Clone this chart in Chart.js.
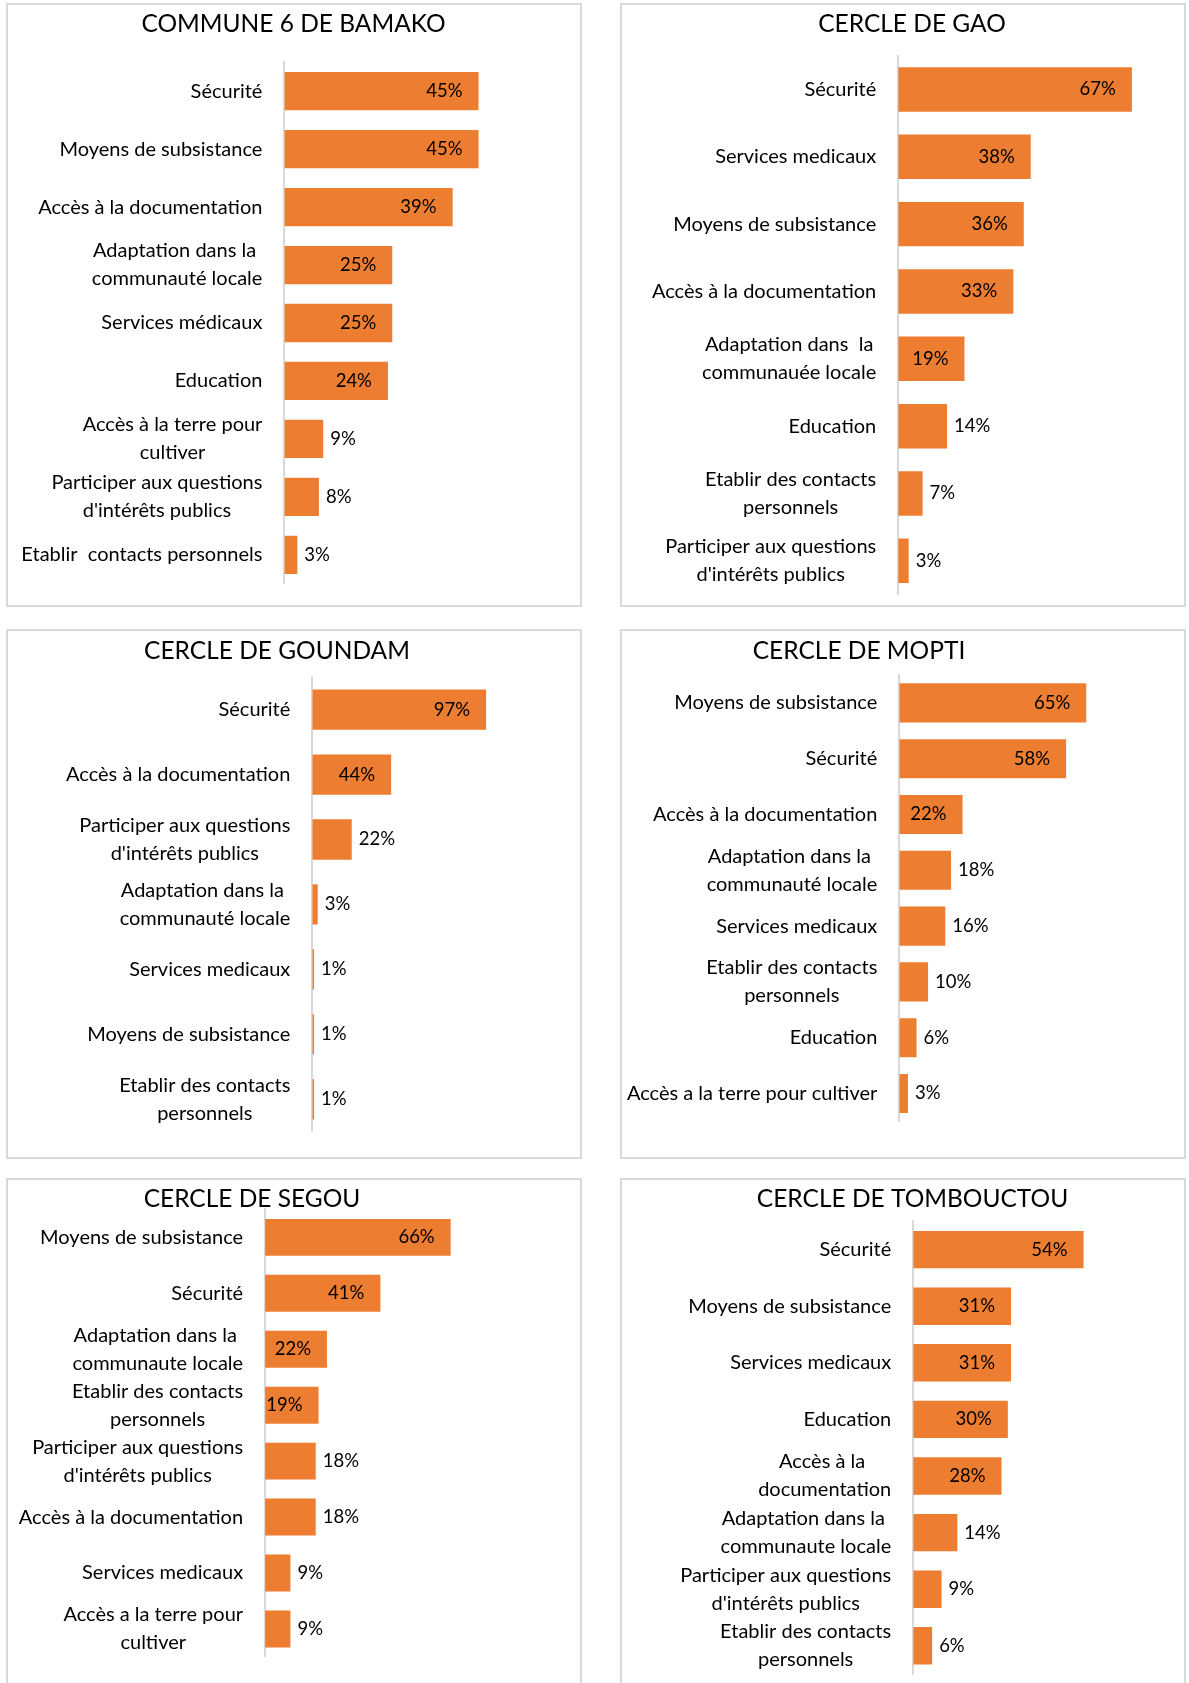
<!DOCTYPE html>
<html>
<head>
<meta charset="utf-8">
<title>Besoins prioritaires par cercle</title>
<script src="https://cdn.jsdelivr.net/npm/chart.js@4.4.0/dist/chart.umd.min.js"></script>
<style>
html, body { margin: 0; padding: 0; background: #fff; overflow: hidden; }
body { width: 1189px; height: 1683px; position: relative; }
.panel { position: absolute; }
.panel canvas { position: absolute; left: 0; top: 0; }
.panel .frame { position: absolute; left: 0; top: 0; right: 0; bottom: 0; border: 2px solid #d9d9d9; box-sizing: border-box; pointer-events: none; }
</style>
</head>
<body>
<script>
// ---- donnees (en %) ----
var bamakoLabels = ['Sécurité', 'Moyens de subsistance', 'Accès à la documentation',
    ['Adaptation dans la ', 'communauté locale'], 'Services médicaux', 'Education',
    ['Accès à la terre pour', 'cultiver'], ['Participer aux questions', "d'intérêts publics"],
    'Etablir  contacts personnels'];
var bamakoValues = [45, 45, 39, 25, 25, 24, 9, 8, 3];

var gaoLabels = ['Sécurité', 'Services medicaux', 'Moyens de subsistance', 'Accès à la documentation',
    ['Adaptation dans  la', 'communauée locale'], 'Education',
    ['Etablir des contacts', 'personnels'], ['Participer aux questions', "d'intérêts publics"]];
var gaoValues = [67, 38, 36, 33, 19, 14, 7, 3];

var goundamLabels = ['Sécurité', 'Accès à la documentation', ['Participer aux questions', "d'intérêts publics"],
    ['Adaptation dans la ', 'communauté locale'], 'Services medicaux', 'Moyens de subsistance',
    ['Etablir des contacts', 'personnels']];
var goundamValues = [97, 44, 22, 3, 1, 1, 1];

var moptiLabels = ['Moyens de subsistance', 'Sécurité', 'Accès à la documentation',
    ['Adaptation dans la ', 'communauté locale'], 'Services medicaux',
    ['Etablir des contacts', 'personnels'], 'Education', 'Accès a la terre pour cultiver'];
var moptiValues = [65, 58, 22, 18, 16, 10, 6, 3];

var segouLabels = ['Moyens de subsistance', 'Sécurité', ['Adaptation dans la ', 'communaute locale'],
    ['Etablir des contacts', 'personnels'], ['Participer aux questions', "d'intérêts publics"],
    'Accès à la documentation', 'Services medicaux', ['Accès a la terre pour', 'cultiver']];
var segouValues = [66, 41, 22, 19, 18, 18, 9, 9];

var tombouctouLabels = ['Sécurité', 'Moyens de subsistance', 'Services medicaux', 'Education',
    ['Accès à la ', 'documentation'], ['Adaptation dans la ', 'communaute locale'],
    ['Participer aux questions', "d'intérêts publics"], ['Etablir des contacts', 'personnels']];
var tombouctouValues = [54, 31, 31, 30, 28, 14, 9, 6];

// ---- mise en page des 6 cadres ----
var panels = [
    {title: 'COMMUNE 6 DE BAMAKO', labels: bamakoLabels, values: bamakoValues, max: 50,
     box: [6, 3, 576, 604], axisX: 284.4, band: [62.2, 583.8], px100: 431.4, titleAt: [293.5, 24.5], barPct: 0.66},
    {title: 'CERCLE DE GAO', labels: gaoLabels, values: gaoValues, max: 80,
     box: [620, 3, 566, 604], axisX: 898.2, band: [55.8, 594.5], px100: 348.8, titleAt: [912, 24.5], barPct: 0.66},
    {title: 'CERCLE DE GOUNDAM', labels: goundamLabels, values: goundamValues, max: 100,
     box: [6, 629, 576, 530], axisX: 312.3, band: [677.1, 1131.8], px100: 179.2, titleAt: [277, 651], barPct: 0.62},
    {title: 'CERCLE DE MOPTI', labels: moptiLabels, values: moptiValues, max: 80,
     box: [620, 629, 566, 530], axisX: 899.3, band: [675, 1121.4], px100: 287.6, titleAt: [859, 651], barPct: 0.7},
    {title: 'CERCLE DE SEGOU', labels: segouLabels, values: segouValues, max: 80,
     box: [6, 1178, 576, 520], axisX: 265.1, band: [1209.4, 1656.9], px100: 281.2, titleAt: [252, 1199.5], barPct: 0.66},
    {title: 'CERCLE DE TOMBOUCTOU', labels: tombouctouLabels, values: tombouctouValues, max: 70,
     box: [620, 1178, 566, 520], axisX: 913.2, band: [1221.3, 1674.1], px100: 315.5, titleAt: [912.5, 1199.5], barPct: 0.66}
];

var FONT = 'Lato, "Noto Sans", sans-serif';

// titre, etiquettes de categories (lignes centrees entre elles) et valeurs
var panelText = {
    id: 'panelText',
    afterDraw: function (chart, args, o) {
        var ctx = chart.ctx;
        var yScale = chart.scales.y;
        ctx.save();
        ctx.fillStyle = '#000';
        ctx.textBaseline = 'middle';

        ctx.font = '24.5px ' + FONT;
        ctx.textAlign = 'center';
        ctx.fillText(o.title, o.titleX, o.titleY);

        ctx.font = '20px ' + FONT;
        chart.data.labels.forEach(function (lab, i) {
            var lines = [].concat(lab);
            var w = Math.max.apply(null, lines.map(function (s) { return ctx.measureText(s).width; }));
            var cx = yScale.right - 22 - w / 2;
            var cy = yScale.getPixelForValue(i);
            lines.forEach(function (s, k) {
                ctx.fillText(s, cx, cy + (k - (lines.length - 1) / 2) * 28);
            });
        });

        ctx.font = '18.5px ' + FONT;
        var meta = chart.getDatasetMeta(0);
        meta.data.forEach(function (bar, i) {
            var txt = chart.data.datasets[0].data[i] + '%';
            if (bar.x - bar.base >= 52) {
                ctx.textAlign = 'right';
                ctx.fillText(txt, bar.x - 16, bar.y);
            } else {
                ctx.textAlign = 'left';
                ctx.fillText(txt, bar.x + 7, bar.y);
            }
        });
        ctx.restore();
    }
};

function drawPanel(p) {
    var div = document.createElement('div');
    div.className = 'panel';
    div.style.left = p.box[0] + 'px';
    div.style.top = p.box[1] + 'px';
    div.style.width = p.box[2] + 'px';
    div.style.height = p.box[3] + 'px';
    var cv = document.createElement('canvas');
    cv.width = p.box[2];
    cv.height = p.box[3];
    div.appendChild(cv);
    var frame = document.createElement('div');
    frame.className = 'frame';
    div.appendChild(frame);
    document.body.appendChild(div);

    var yw = p.axisX - p.box[0];
    var right = p.axisX + p.px100 * p.max / 100;

    new Chart(cv.getContext('2d'), {
        type: 'bar',
        data: {
            labels: p.labels,
            datasets: [{
                data: p.values,
                backgroundColor: '#ED7D31',
                barPercentage: p.barPct,
                categoryPercentage: 1
            }]
        },
        options: {
            indexAxis: 'y',
            responsive: false,
            animation: false,
            layout: {
                padding: {
                    left: 0,
                    right: p.box[0] + p.box[2] - right,
                    top: p.band[0] - p.box[1],
                    bottom: p.box[1] + p.box[3] - p.band[1]
                }
            },
            plugins: {
                legend: {display: false},
                tooltip: {enabled: false},
                panelText: {title: p.title, titleX: p.titleAt[0] - p.box[0], titleY: p.titleAt[1] - p.box[1]}
            },
            scales: {
                x: {display: false, min: 0, max: p.max},
                y: {
                    grid: {display: false},
                    border: {display: true, color: '#d9d9d9', width: 2},
                    ticks: {display: false},
                    afterFit: function (s) { s.width = yw; }
                }
            }
        },
        plugins: [panelText]
    });
}

document.fonts.load('20px Lato').then(function () {
    panels.forEach(drawPanel);
}, function () {
    panels.forEach(drawPanel);
});
</script>
</body>
</html>
